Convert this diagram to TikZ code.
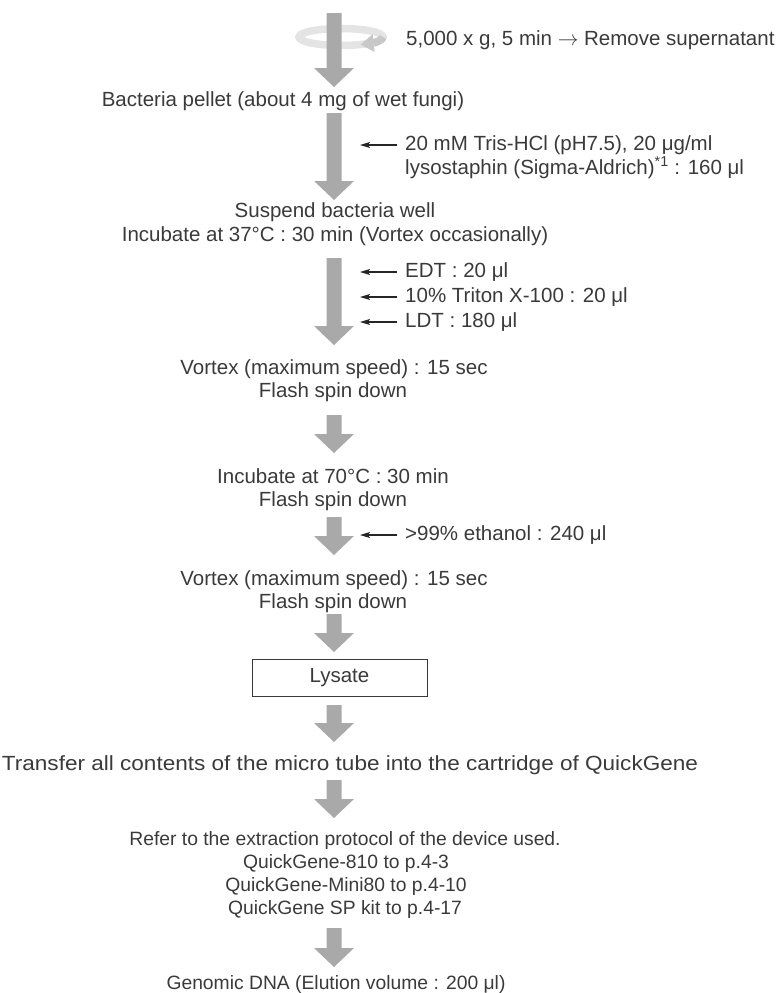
\documentclass[tikz,border=0pt]{standalone}
\usepackage{fontspec}
\setmainfont{Liberation Sans}
\usetikzlibrary{arrows.meta,calc}

\definecolor{txt}{HTML}{3A3A3A}
\definecolor{flow}{HTML}{A9A9A9}
\definecolor{ringback}{HTML}{E4E4E4}
\definecolor{ringfront}{HTML}{C8C8C8}

% grey block arrow from coordinate #1 (top of shaft) to coordinate #2 (tip)
\newcommand\flowarrow[2]{%
  \fill[flow] let \p1=(#1), \p2=(#2) in
    (\x1-7.5pt,\y1) -- (\x1+7.5pt,\y1) -- (\x1+7.5pt,\y2+19pt) -- (\x1+20pt,\y2+19pt)
    -- (\x1,\y2) -- (\x1-20pt,\y2+19pt) -- (\x1-7.5pt,\y2+19pt) -- cycle;}

\begin{document}
\begin{tikzpicture}[x=1pt,y=-1pt,
  every node/.style={text=txt,inner sep=0pt,font=\fontsize{20.5}{24}\selectfont,
    text height=14.5pt,text depth=4pt},
  stepline/.style={anchor=center},
  smallline/.style={anchor=center,font=\fontsize{19.3}{24}\selectfont},
  addline/.style={anchor=west},
  addarrow/.style={draw=black!85,line width=1.2pt,-{Stealth[length=10pt,width=6pt,inset=2pt]}},
  boxnode/.style={draw=txt,line width=0.8pt,minimum width=175pt,minimum height=37pt,
    text height=14.5pt,text depth=4pt}]
\useasboundingbox (0,0) rectangle (784,993);

% centrifuge ring behind the first arrow
\draw[ringback,line width=7.5pt] (341,37) ellipse [x radius=42,y radius=8.5];
\coordinate (a0s) at (334,13); \coordinate (a0e) at (334,87);
\flowarrow{a0s}{a0e}
\draw[ringfront,line width=7.5pt,-{Triangle[length=13pt,width=18pt,line width=0pt]}]
  (383,37) arc[start angle=0,end angle=62,x radius=42,y radius=8.5];
\node[addline] (spin) at (406,40) {5,000 x g, 5 min $\rightarrow$ Remove supernatant};

\node[stepline] (pellet) at (283,101) {Bacteria pellet (about 4 mg of wet fungi)};

\coordinate (a1s) at (334,113); \coordinate (a1e) at (334,200);
\flowarrow{a1s}{a1e}
\node[addline] (tris) at (405,145) {20 mM Tris-HCl (pH7.5), 20 μg/ml};
\node[addline] (lyso) at (405,169) {lysostaphin (Sigma-Aldrich)\textsuperscript{*1} : 160 μl};
\draw[addarrow] ([xshift=-8pt]tris.west) -- ([xshift=-45pt]tris.west);

\node[stepline] (susp) at (335,212) {Suspend bacteria well};
\node[stepline] (inc37) at (335,236) {Incubate at 37°C : 30 min (Vortex occasionally)};

\coordinate (a2s) at (334,258); \coordinate (a2e) at (334,345);
\flowarrow{a2s}{a2e}
\node[addline] (edt) at (405,272) {EDT : 20 μl};
\node[addline] (triton) at (405,297) {10\% Triton X-100 : 20 μl};
\node[addline] (ldt) at (405,322) {LDT : 180 μl};
\draw[addarrow] ([xshift=-8pt]edt.west) -- ([xshift=-45pt]edt.west);
\draw[addarrow] ([xshift=-8pt]triton.west) -- ([xshift=-45pt]triton.west);
\draw[addarrow] ([xshift=-8pt]ldt.west) -- ([xshift=-45pt]ldt.west);

\node[stepline] (vort1) at (334,369) {Vortex (maximum speed) : 15 sec};
\node[stepline] (flash1) at (333,392) {Flash spin down};

\coordinate (a3s) at (334,415); \coordinate (a3e) at (334,453);
\flowarrow{a3s}{a3e}

\node[stepline] (inc70) at (333,478) {Incubate at 70°C : 30 min};
\node[stepline] (flash2) at (333,501) {Flash spin down};

\coordinate (a4s) at (334,517); \coordinate (a4e) at (334,555);
\flowarrow{a4s}{a4e}
\node[addline] (etoh) at (405,535) {>99\% ethanol : 240 μl};
\draw[addarrow] ([xshift=-8pt]etoh.west) -- ([xshift=-45pt]etoh.west);

\node[stepline] (vort2) at (334,580) {Vortex (maximum speed) : 15 sec};
\node[stepline] (flash3) at (333,603) {Flash spin down};

\coordinate (a5s) at (334,614); \coordinate (a5e) at (334,652);
\flowarrow{a5s}{a5e}

\node[boxnode] (lysate) at (339.5,677.5) {Lysate};

\coordinate (a6s) at (334,705); \coordinate (a6e) at (334,742);
\flowarrow{a6s}{a6e}

\node[stepline] (transfer) at (350,765)
  {\scalebox{1.1}[1]{Transfer all contents of the micro tube into the cartridge of QuickGene}};

\coordinate (a7s) at (334,780); \coordinate (a7e) at (334,818);
\flowarrow{a7s}{a7e}

\node[smallline] (refer) at (345,840) {Refer to the extraction protocol of the device used.};
\node[smallline] (qg810) at (346,863) {QuickGene-810 to p.4-3};
\node[smallline] (qgmini) at (346,886) {QuickGene-Mini80 to p.4-10};
\node[smallline] (qgsp) at (345,909) {QuickGene SP kit to p.4-17};

\coordinate (a8s) at (334,928); \coordinate (a8e) at (334,967);
\flowarrow{a8s}{a8e}

\node[smallline] (dna) at (336,984) {Genomic DNA (Elution volume : 200 μl)};
\end{tikzpicture}
\end{document}
